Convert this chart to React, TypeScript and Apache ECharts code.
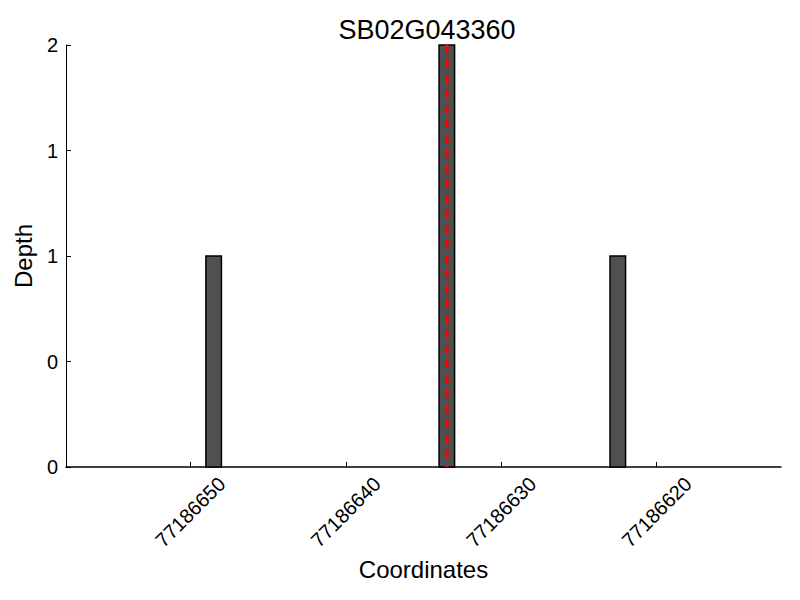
import React, { useEffect, useRef } from "react";
import * as echarts from "echarts";

const titleText = "SB02G043360";
const xName = "Coordinates";
const yName = "Depth";
// bars: [start coordinate, end coordinate, depth]
const barStarts = [77186649, 77186634, 77186623];
const barEnds = [77186648, 77186633, 77186622];
const depths = [1, 2, 1];
const xMin = 77186612;
const xMax = 77186658;
const xTicks = [77186620, 77186630, 77186640, 77186650];
const yTicks = [0, 0.5, 1, 1.5, 2];
const markerPos = 77186633.5;

export default function App() {
  const ref = useRef<HTMLDivElement>(null);
  useEffect(() => {
    const chart = echarts.init(ref.current!, null, { renderer: "svg" });
    const font = "Liberation Sans";
    const barData = barStarts.map((s, i) => [s, barEnds[i], depths[i]]);
    chart.setOption({
      animation: false,
      title: {
        text: titleText,
        left: 422,
        top: 11,
        textAlign: "center",
        textStyle: { fontFamily: font, fontSize: 27, fontWeight: "normal", color: "#000" },
      },
      grid: { left: 66, right: 19, top: 45, bottom: 133, outerBoundsMode: "none", containLabel: false },
      xAxis: {
        type: "value",
        inverse: true,
        min: xMin,
        max: xMax,
        name: xName,
        nameLocation: "middle",
        nameGap: 84,
        nameTextStyle: { fontFamily: font, fontSize: 24, color: "#000" },
        axisLine: { show: true, lineStyle: { color: "#000", width: 1.5 } },
        axisTick: { show: true, inside: true, length: 5, customValues: xTicks, lineStyle: { color: "#000" } },
        axisLabel: {
          show: true,
          customValues: xTicks,
          rotate: 45,
          align: "center",
          verticalAlign: "middle",
          fontFamily: font,
          fontSize: 20,
          color: "#000",
          margin: 45,
          formatter: (v: number) => String(Math.round(v)),
        },
        splitLine: { show: false },
      },
      yAxis: {
        type: "value",
        min: 0,
        max: 2,
        interval: 0.5,
        name: yName,
        nameLocation: "middle",
        nameGap: 29,
        nameTextStyle: { fontFamily: font, fontSize: 24, color: "#000" },
        axisLine: { show: true, lineStyle: { color: "#000", width: 1 } },
        axisTick: { show: true, inside: true, length: 5, lineStyle: { color: "#000" } },
        axisLabel: {
          fontFamily: font,
          fontSize: 20,
          color: "#000",
          margin: 8,
          customValues: yTicks,
          formatter: (v: number) => String(Math.floor(v)),
        },
        splitLine: { show: false },
      },
      series: [
        {
          type: "custom",
          data: barData,
          renderItem: (params: any, api: any) => {
            const p1 = api.coord([api.value(0), api.value(2)]);
            const p2 = api.coord([api.value(1), 0]);
            const x = Math.min(p1[0], p2[0]);
            const w = Math.abs(p2[0] - p1[0]);
            return {
              type: "rect",
              shape: { x, y: p1[1], width: w, height: p2[1] - p1[1] },
              style: { fill: "#505050", stroke: "#000", lineWidth: 1.5 },
            };
          },
          z: 2,
        },
        {
          type: "line",
          data: [
            [markerPos, 2],
            [markerPos, 0],
          ],
          symbol: "none",
          clip: false,
          lineStyle: { color: "#ff0000", width: 3.5, type: [8, 7], opacity: 1 },
          emphasis: { disabled: true },
          z: 5,
        },
      ],
    });
    return () => chart.dispose();
  }, []);
  return (
    <div
      ref={ref}
      style={{ position: "fixed", left: 0, top: 0, width: 800, height: 600, background: "#fff" }}
    />
  );
}
